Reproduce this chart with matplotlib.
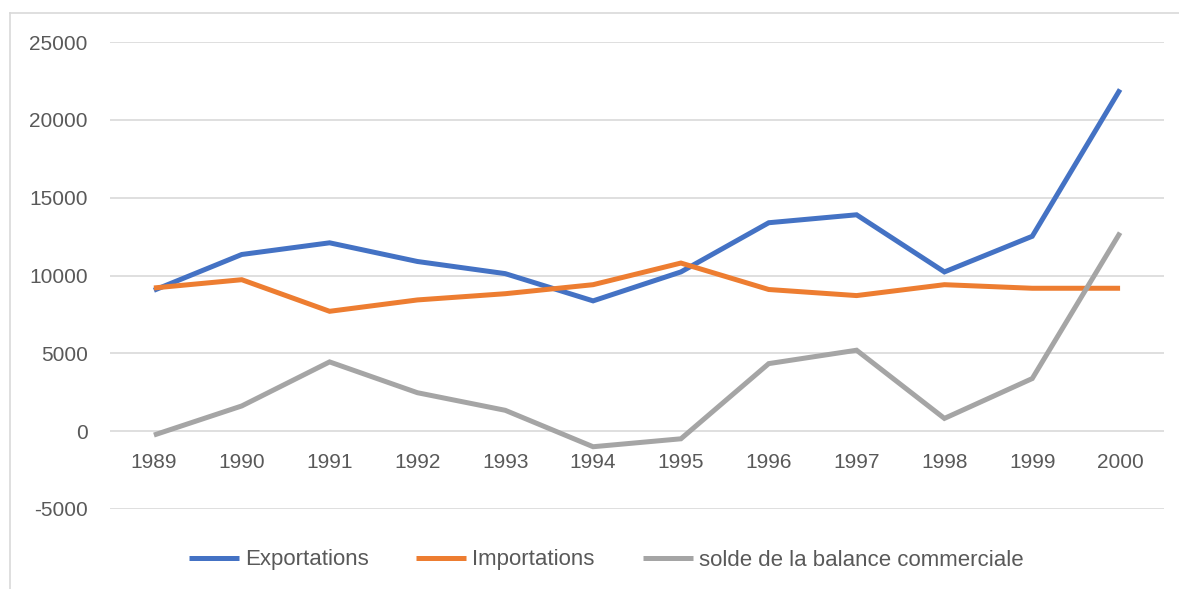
import matplotlib
matplotlib.use("Agg")
import matplotlib.pyplot as plt
from matplotlib.lines import Line2D

years = ["1989", "1990", "1991", "1992", "1993", "1994", "1995", "1996", "1997", "1998", "1999", "2000"]
exportations = [9050, 11350, 12100, 10900, 10120, 8370, 10230, 13390, 13900, 10230, 12520, 21950]
importations = [9200, 9730, 7700, 8430, 8830, 9410, 10800, 9100, 8710, 9410, 9180, 9180]
solde = [-250, 1620, 4450, 2470, 1340, -1000, -490, 4340, 5200, 820, 3380, 12750]
yticks = [-5000, 0, 5000, 10000, 15000, 20000, 25000]

series_names = ["Exportations", "Importations", "solde de la balance commerciale"]
colors = ["#4472C4", "#ED7D31", "#A5A5A5"]

plt.rcParams['font.family'] = ['Liberation Sans', 'DejaVu Sans']

fig = plt.figure(figsize=(11.79, 5.89), dpi=100)
# outer chart border (left and top visible)
fig.add_artist(Line2D([10/1179, 10/1179], [0, 1 - 13/589], transform=fig.transFigure,
                      color="#D9D9D9", lw=1.2))
fig.add_artist(Line2D([10/1179, 1], [1 - 13/589, 1 - 13/589], transform=fig.transFigure,
                      color="#D9D9D9", lw=1.2))

ax = fig.add_axes([110/1179, 1 - 509/589, (1164 - 110)/1179, (509 - 42)/589])
x = list(range(len(years)))
for vals, name, c in zip([exportations, importations, solde], series_names, colors):
    ax.plot(x, vals, color=c, lw=3.6, label=name, solid_capstyle="butt", solid_joinstyle="miter", zorder=3)

ax.set_xlim(-0.5, len(years) - 0.5)
ax.set_ylim(-5000, 25000)
ax.set_yticks(yticks)
ax.set_yticklabels([str(v) for v in yticks])
ax.grid(axis="y", color="#D9D9D9", lw=1.2, zorder=0)
ax.set_axisbelow(True)
for s in ax.spines.values():
    s.set_visible(False)
ax.spines['bottom'].set_position(('data', 0))
ax.set_xticks(x)
ax.set_xticklabels(years)
ax.tick_params(axis="x", length=0, pad=16, labelsize=15, labelcolor="#595959")
ax.tick_params(axis="y", length=0, pad=16, labelsize=15, labelcolor="#595959")

fig.legend(loc="center", bbox_to_anchor=(606/1179, 1 - 560/589), ncol=3, frameon=False,
           fontsize=16, labelcolor="#595959", handlelength=2.25, handletextpad=0.27,
           columnspacing=2.15)

fig.savefig("out.png", dpi=100)
